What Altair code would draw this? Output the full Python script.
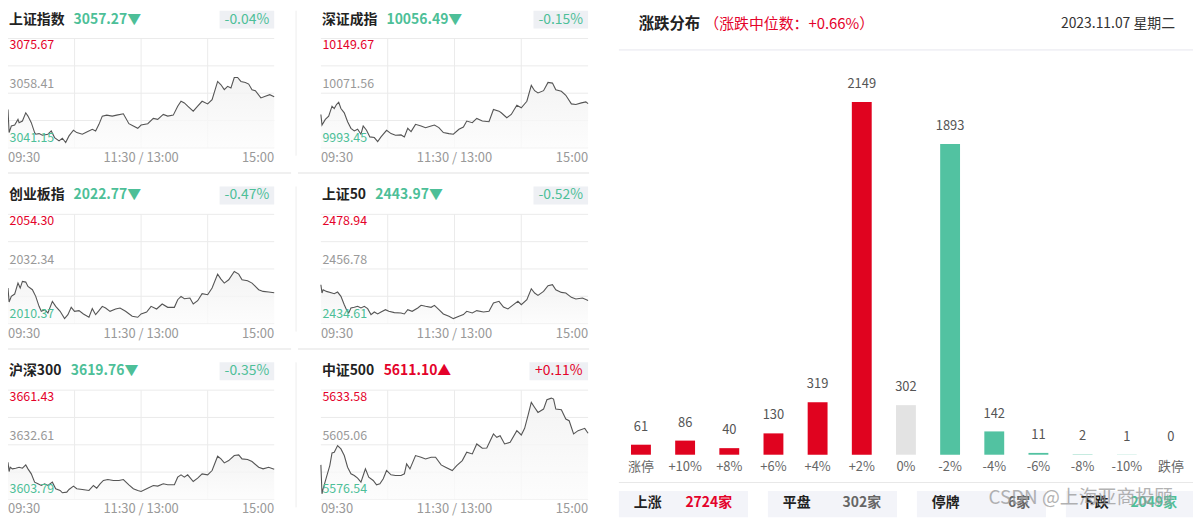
import altair as alt
import pandas as pd

FONT = "Noto Sans CJK SC"
RED = "#e4022a"
GREEN = "#4dbf98"
BAR_RED = "#e0031f"
BAR_GREEN = "#52c2a1"
BAR_GREY = "#e3e3e3"

# ---------------- index panels ----------------
NAMES = ["上证指数", "深证成指", "创业板指", "上证50", "沪深300", "中证500"]
PRICES = ["3057.27", "10056.49", "2022.77", "2443.97", "3619.76", "5611.10"]
PCTS = ["-0.04%", "-0.15%", "-0.47%", "-0.52%", "-0.35%", "+0.11%"]
Y_TOP = [3075.67, 10149.67, 2054.30, 2478.94, 3661.43, 5633.58]
Y_MID = [3058.41, 10071.56, 2032.34, 2456.78, 3632.61, 5605.06]
Y_BOT = [3041.15, 9993.45, 2010.37, 2434.61, 3603.79, 5576.54]
X_TICKS = [0, 120, 240]
X_LABELS = ["09:30", "11:30 / 13:00", "15:00"]
V_GRID = [60, 120, 180]

SH_T = [0, 1, 3, 6, 9, 10, 13, 16, 18, 21, 24, 25, 28, 31, 36, 39, 42, 46, 49, 52,
        55, 59, 62, 67, 71, 76, 79, 82, 85, 89, 94, 98, 104, 109, 113, 117, 120, 126, 131, 135,
        140, 144, 149, 153, 156, 159, 162, 167, 171, 175, 180, 184, 189, 192, 195, 198, 201, 204, 207, 210,
        214, 217, 220, 223, 228, 232, 236, 240]
SH_V = [3053.25, 3045.95, 3048.03, 3048.35, 3050.12, 3049.08, 3049.60, 3052.20, 3051.16, 3049.08,
        3045.95, 3045.43, 3045.63, 3045.11, 3045.43, 3046.47, 3044.38, 3043.34, 3044.17, 3042.82,
        3044.90, 3046.68, 3045.95, 3045.43, 3046.16, 3046.99, 3046.47, 3048.55, 3051.16, 3051.47,
        3051.16, 3051.47, 3051.89, 3048.76, 3048.03, 3047.30, 3048.35, 3048.76, 3050.43, 3050.12,
        3051.68, 3051.16, 3051.47, 3054.29, 3055.85, 3055.33, 3054.29, 3052.73, 3054.29, 3055.85,
        3055.02, 3056.38, 3062.11, 3061.07, 3059.51, 3060.55, 3060.03, 3063.36, 3063.36, 3062.11,
        3061.80, 3061.28, 3059.51, 3059.19, 3056.90, 3057.42, 3057.94, 3057.27]

SZ_T = [0, 1, 4, 7, 10, 12, 14, 16, 18, 21, 24, 27, 30, 33, 36, 38, 41, 44, 48, 51,
        54, 59, 63, 67, 72, 75, 78, 81, 85, 90, 94, 99, 102, 106, 110, 115, 119, 124, 128, 131,
        136, 140, 145, 151, 155, 160, 162, 167, 171, 176, 180, 185, 189, 192, 195, 200, 204, 208, 211, 216,
        220, 225, 229, 234, 238, 240]
SZ_V = [10041.12, 10026.02, 10034.04, 10038.76, 10052.92, 10049.61, 10055.28, 10058.58, 10049.61, 10043.48,
        10030.74, 10021.30, 10017.52, 10019.88, 10012.80, 10024.60, 10018.47, 10009.03, 10008.08, 10002.42,
        10009.03, 10018.47, 10013.75, 10011.39, 10011.86, 10009.03, 10021.30, 10016.58, 10026.96, 10024.60,
        10022.24, 10024.60, 10026.02, 10022.24, 10015.16, 10013.75, 10012.80, 10019.88, 10023.18, 10031.68,
        10029.32, 10035.46, 10031.68, 10030.74, 10048.20, 10045.84, 10043.48, 10036.40, 10041.12, 10054.33,
        10050.56, 10060.00, 10082.65, 10075.10, 10071.80, 10075.10, 10086.90, 10085.96, 10076.52, 10074.16,
        10068.49, 10056.22, 10055.28, 10057.64, 10059.05, 10056.49]

CY_T = [0, 1, 3, 6, 9, 11, 13, 16, 18, 22, 25, 28, 30, 33, 36, 40, 43, 47, 51, 54,
        57, 60, 64, 68, 73, 76, 79, 82, 85, 88, 92, 97, 101, 106, 112, 117, 120, 125, 129, 134,
        139, 144, 150, 153, 156, 159, 164, 167, 171, 175, 180, 184, 189, 192, 195, 199, 204, 208, 211, 216,
        220, 226, 230, 235, 240]
CY_V = [2024.66, 2019.05, 2021.32, 2022.25, 2026.66, 2024.66, 2027.33, 2027.06, 2025.32, 2023.99,
        2021.32, 2017.31, 2015.31, 2015.98, 2014.64, 2019.32, 2017.31, 2015.31, 2012.37, 2013.97,
        2016.91, 2015.31, 2015.58, 2014.24, 2012.91, 2016.38, 2013.97, 2015.58, 2017.31, 2016.64,
        2015.31, 2016.24, 2016.64, 2015.31, 2013.31, 2012.91, 2014.24, 2015.04, 2017.31, 2016.24,
        2018.25, 2016.91, 2016.91, 2019.98, 2021.32, 2020.38, 2020.65, 2018.25, 2019.58, 2022.39,
        2021.99, 2024.66, 2030.26, 2028.26, 2026.66, 2027.99, 2031.33, 2030.26, 2027.99, 2027.59,
        2026.66, 2023.99, 2023.32, 2023.05, 2022.77]

S50_T = [0, 1, 2, 5, 10, 12, 15, 18, 21, 23, 25, 27, 30, 33, 36, 39, 42, 45, 48, 51,
         54, 58, 61, 66, 72, 75, 78, 82, 87, 90, 94, 99, 102, 106, 110, 115, 119, 124, 128, 131,
         136, 140, 146, 151, 155, 160, 164, 168, 173, 177, 180, 185, 189, 192, 195, 200, 204, 208, 211, 216,
         220, 225, 229, 235, 240]
S50_V = [2450.38, 2447.01, 2448.35, 2447.68, 2447.01, 2446.74, 2447.41, 2445.66, 2442.29, 2440.27,
         2438.92, 2440.94, 2441.21, 2441.62, 2440.94, 2441.62, 2440.67, 2438.25, 2439.33, 2438.52,
         2439.33, 2440.27, 2439.60, 2439.06, 2438.92, 2438.52, 2440.27, 2439.60, 2440.94, 2442.02,
         2441.62, 2441.21, 2442.02, 2440.27, 2438.52, 2437.57, 2436.63, 2437.57, 2438.25, 2439.60,
         2438.92, 2439.87, 2439.33, 2439.60, 2442.96, 2443.64, 2441.35, 2440.54, 2442.29, 2443.64,
         2442.29, 2444.31, 2448.76, 2447.01, 2446.06, 2447.68, 2449.97, 2450.38, 2448.35, 2447.28,
         2447.01, 2445.25, 2444.58, 2444.99, 2443.97]

HS_T = [0, 1, 2, 4, 7, 10, 13, 16, 18, 21, 24, 27, 30, 33, 36, 40, 43, 47, 49, 53,
        55, 59, 62, 67, 73, 77, 80, 83, 86, 90, 95, 100, 104, 109, 113, 117, 120, 125, 131, 135,
        140, 144, 150, 153, 156, 159, 162, 167, 171, 175, 180, 184, 189, 192, 195, 199, 204, 208, 211, 216,
        220, 226, 230, 235, 240]
HS_V = [3623.41, 3618.51, 3620.78, 3619.91, 3620.26, 3620.78, 3620.26, 3622.01, 3619.91, 3617.28,
        3612.90, 3612.02, 3611.15, 3612.02, 3611.15, 3612.90, 3609.40, 3608.52, 3607.29, 3607.64,
        3609.05, 3610.80, 3609.40, 3609.05, 3608.52, 3611.15, 3609.75, 3612.02, 3613.78, 3614.30,
        3613.78, 3613.78, 3614.30, 3611.50, 3609.40, 3608.52, 3607.99, 3609.40, 3611.15, 3610.80,
        3612.02, 3611.50, 3611.50, 3615.53, 3616.75, 3615.53, 3616.75, 3613.25, 3615.00, 3617.28,
        3616.75, 3619.03, 3626.57, 3625.16, 3623.06, 3624.29, 3626.92, 3627.27, 3625.16, 3624.81,
        3623.76, 3620.78, 3619.91, 3620.78, 3619.76]

ZZ_T = [0, 1, 2, 5, 8, 10, 12, 15, 18, 21, 24, 27, 30, 33, 36, 38, 40, 43, 47, 50,
        53, 56, 59, 63, 67, 72, 75, 77, 80, 85, 90, 94, 99, 103, 108, 112, 118, 122, 127, 131,
        136, 140, 145, 149, 155, 158, 161, 165, 170, 176, 180, 183, 186, 189, 192, 195, 200, 203, 207, 209,
        211, 216, 220, 223, 227, 231, 237, 240]
ZZ_V = [5594.57, 5579.49, 5582.09, 5588.16, 5594.23, 5600.81, 5601.16, 5604.63, 5602.89, 5599.43,
        5593.36, 5589.89, 5589.02, 5587.64, 5585.56, 5589.02, 5592.49, 5588.16, 5586.42, 5584.17,
        5584.69, 5587.29, 5591.62, 5589.37, 5589.02, 5589.02, 5589.89, 5595.09, 5592.49, 5599.43,
        5598.56, 5597.69, 5598.56, 5598.56, 5594.57, 5593.36, 5591.62, 5594.23, 5596.83, 5601.16,
        5600.29, 5605.49, 5603.24, 5603.41, 5610.70, 5608.96, 5609.83, 5605.49, 5606.36, 5612.43,
        5610.18, 5613.64, 5620.23, 5627.17, 5624.56, 5621.96, 5623.70, 5628.55, 5629.42, 5628.90,
        5623.70, 5623.35, 5618.50, 5617.63, 5610.70, 5612.43, 5613.64, 5611.10]

SERIES_T = [SH_T, SZ_T, CY_T, S50_T, HS_T, ZZ_T]
SERIES_V = [SH_V, SZ_V, CY_V, S50_V, HS_V, ZZ_V]

# ---------------- distribution panel ----------------
CATS = ["涨停", "+10%", "+8%", "+6%", "+4%", "+2%", "0%", "-2%", "-4%", "-6%", "-8%", "-10%", "跌停"]
COUNTS = [61, 86, 40, 130, 319, 2149, 302, 1893, 142, 11, 2, 1, 0]
BAR_COLORS = [BAR_RED] * 6 + [BAR_GREY] + [BAR_GREEN] * 6
SUM_LABELS = ["上涨", "平盘", "停牌", "下跌"]
SUM_VALUES = ["2724家", "302家", "6家", "2049家"]
SUM_COLORS = [RED, "#666666", "#666666", GREEN]
TITLE = "涨跌分布"
SUBTITLE = "（涨跌中位数：+0.66%）"
DATE = "2023.11.07 星期二"
WATERMARK = "CSDN @上海亚商投顾"

# ---------------- layout (pixels inside the chart) ----------------
W, H = 1193, 513
COL_X = [(0, 268), (315, 584)]
ROW_Y = [29, 206, 383]
PH = 110
BAR_X = (615, 1193)
BAR_Y = (448, 29)
BAR_MAX = 2536

ONE = pd.DataFrame({"k": [0]})


def txt(s, x, y, size, color, weight="normal", align="left", opacity=1.0):
    return alt.Chart(ONE).mark_text(
        align=align, baseline="middle", font=FONT, fontSize=size, fontWeight=weight,
        color=color, opacity=opacity
    ).encode(x=alt.value(x), y=alt.value(y), text=alt.value(s))


def hrule(x0, x1, y, color, w=1):
    return alt.Chart(ONE).mark_rule(color=color, strokeWidth=w).encode(
        x=alt.value(x0), x2=alt.value(x1), y=alt.value(y))


def vrule(x, y0, y1, color, w=1):
    return alt.Chart(ONE).mark_rule(color=color, strokeWidth=w).encode(
        x=alt.value(x), y=alt.value(y0), y2=alt.value(y1))


def text_width(s, size=14):
    return sum(size if ord(c) > 0x2E80 else size * 0.6 for c in s)


layers = []

for i in range(6):
    row, col = divmod(i, 2)
    X0, X1 = COL_X[col]
    Y0 = ROW_Y[row]
    Y1 = Y0 + PH
    ymin, ymid, ymax = Y_BOT[i], Y_MID[i], Y_TOP[i]
    ysc = alt.Scale(domain=[ymin, ymax], range=[Y1, Y0], nice=False, zero=False)
    xsc = alt.Scale(domain=[0, 240], range=[X0, X1], nice=False, zero=False)
    df = pd.DataFrame({"t": SERIES_T[i], "v": SERIES_V[i]})
    df["base"] = ymin
    grid_vals = [ymin + k * (ymax - ymin) / 4 for k in range(5)]

    layers.append(alt.Chart(pd.DataFrame({"g": grid_vals})).mark_rule(color="#ebebeb").encode(
        y=alt.Y("g:Q", scale=ysc, axis=None),
        x=alt.value(X0), x2=alt.value(X1)))
    layers.append(alt.Chart(pd.DataFrame({"t": V_GRID})).mark_rule(color="#ebebeb").encode(
        x=alt.X("t:Q", scale=xsc, axis=None),
        y=alt.value(Y0), y2=alt.value(Y1)))
    grad = alt.Gradient(gradient="linear",
                        stops=[alt.GradientStop(color="#f1f1f1", offset=0),
                               alt.GradientStop(color="#fcfcfc", offset=1)],
                        x1=1, x2=1, y1=0, y2=1)
    layers.append(alt.Chart(df).mark_area(color=grad, opacity=0.8).encode(
        x=alt.X("t:Q", scale=xsc, axis=None),
        y=alt.Y("v:Q", scale=ysc, axis=None),
        y2="base:Q"))
    layers.append(alt.Chart(df).mark_line(color="#555555", strokeWidth=1.1).encode(
        x=alt.X("t:Q", scale=xsc, axis=None),
        y=alt.Y("v:Q", scale=ysc, axis=None)))

    # y labels (max / previous close / min)
    for val, color, dy in [(ymax, RED, 7), (ymid, "#999999", -9), (ymin, GREEN, -10)]:
        layers.append(alt.Chart(pd.DataFrame({"v": [val], "s": [f"{val:.2f}"]})).mark_text(
            align="left", baseline="middle", dy=dy, font=FONT, fontSize=12.5, color=color
        ).encode(x=alt.value(X0 + 1.5), y=alt.Y("v:Q", scale=ysc, axis=None), text="s:N"))

    # x labels
    for t, lab, al in zip(X_TICKS, X_LABELS, ["left", "center", "right"]):
        layers.append(alt.Chart(pd.DataFrame({"t": [t], "s": [lab]})).mark_text(
            align=al, baseline="middle", font=FONT, fontSize=13, color="#999999"
        ).encode(x=alt.X("t:Q", scale=xsc, axis=None), y=alt.value(Y1 + 10), text="s:N"))

    # header
    neg = PCTS[i].startswith("-")
    pcol = GREEN if neg else RED
    price = PRICES[i] + ("▼" if neg else "▲")
    px = X0 + 1 + text_width(NAMES[i]) + 9
    bw = 55 if neg else 59
    layers.append(txt(NAMES[i], X0 + 1, Y0 - 19, 14, "#222222", "bold"))
    layers.append(txt(price, px, Y0 - 19, 14, pcol, "bold"))
    layers.append(alt.Chart(ONE).mark_rect(color="#eef0f4").encode(
        x=alt.value(X1 - bw), x2=alt.value(X1), y=alt.value(Y0 - 28), y2=alt.value(Y0 - 10)))
    layers.append(txt(PCTS[i], X1 - bw / 2, Y0 - 19, 14, pcol, align="center"))

    if col == 0:
        layers.append(vrule(290, Y0 - 28, Y0 + 118, "#eeeeee"))
    if row < 2:
        if col == 0:
            layers.append(hrule(0, 285, Y0 + 135.5, "#f0f0f0", 2))
        else:
            layers.append(hrule(292, 585, Y0 + 135.5, "#f0f0f0", 2))

# ---------------- distribution bars ----------------
bdf = pd.DataFrame({"cat": CATS, "n": COUNTS})
xb = alt.X("cat:N", sort=CATS, axis=None,
           scale=alt.Scale(domain=CATS, range=list(BAR_X), paddingInner=0.55, paddingOuter=0.275))
yb = alt.Y("n:Q", axis=None, scale=alt.Scale(domain=[0, BAR_MAX], range=list(BAR_Y), nice=False))
layers.append(alt.Chart(bdf).mark_bar().encode(
    x=xb, y=yb,
    color=alt.Color("cat:N", scale=alt.Scale(domain=CATS, range=BAR_COLORS), legend=None)))
layers.append(alt.Chart(bdf).mark_text(dy=-18, baseline="middle", font=FONT, fontSize=13,
                                       color="#555555").encode(x=xb, y=yb, text="n:Q"))
layers.append(alt.Chart(bdf).mark_text(baseline="middle", font=FONT, fontSize=13,
                                       color="#666666").encode(x=xb, y=alt.value(460), text="cat:N"))

layers += [txt(TITLE, 635, 14, 15.5, "#222222", "bold"),
           txt(SUBTITLE, 701, 14, 15, RED),
           txt(DATE, 1175, 14, 14, "#333333", align="right"),
           hrule(615, 1193, 40.5, "#e6e6ee"),
           hrule(615, 1193, 476, "#e8e8e8")]
BOX_X = [(615, 745), (765, 895), (915, 1045), (1065, 1193)]
for (x0, x1), lab, val, colr in zip(BOX_X, SUM_LABELS, SUM_VALUES, SUM_COLORS):
    layers.append(alt.Chart(ONE).mark_rect(color="#f3f4f9").encode(
        x=alt.value(x0), x2=alt.value(x1), y=alt.value(484.5), y2=alt.value(511)))
    layers.append(txt(lab, x0 + 15, 497, 14, "#222222", "bold"))
    layers.append(txt(val, x1 - 16, 497, 14, colr, "bold", align="right"))
layers.append(txt(WATERMARK, 987, 492, 19, "#999999", opacity=0.75))

chart = alt.layer(*layers).resolve_scale(
    x="independent", y="independent", color="independent"
).properties(
    width=W, height=H,
    autosize=alt.AutoSizeParams(type="none"),
    padding={"left": 0, "top": 0, "right": 0, "bottom": 0},
).configure_view(stroke=None)

chart.save("out.html", embed_options={"renderer": "svg", "actions": False})
